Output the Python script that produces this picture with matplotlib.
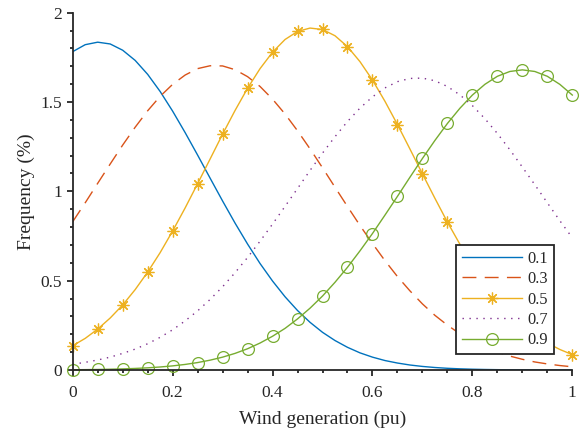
import numpy as np
import matplotlib
matplotlib.use("Agg")
import matplotlib.pyplot as plt

# ---- data ----
x = np.linspace(0, 1, 41)
labels = ["0.1", "0.3", "0.5", "0.7", "0.9"]

y_01 = [1.782, 1.821, 1.835, 1.825, 1.790, 1.733, 1.655, 1.559, 1.449, 1.329,
        1.203, 1.074, 0.946, 0.822, 0.705, 0.596, 0.498, 0.410, 0.333, 0.267,
        0.211, 0.165, 0.127, 0.096, 0.072, 0.053, 0.039, 0.028, 0.020, 0.014,
        0.0096, 0.0066, 0.0044, 0.0029, 0.0019, 0.0012, 0.0008, 0.0005, 0.0003, 0.0002,
        0.0001]
y_03 = [0.830, 0.936, 1.045, 1.153, 1.259, 1.359, 1.451, 1.532, 1.599, 1.651,
        1.687, 1.703, 1.702, 1.681, 1.642, 1.587, 1.516, 1.433, 1.339, 1.238,
        1.132, 1.023, 0.915, 0.809, 0.708, 0.612, 0.523, 0.443, 0.370, 0.306,
        0.251, 0.203, 0.162, 0.129, 0.101, 0.078, 0.060, 0.045, 0.034, 0.025,
        0.018]
y_05 = [0.136, 0.177, 0.229, 0.291, 0.364, 0.450, 0.548, 0.657, 0.778, 0.907,
        1.043, 1.181, 1.320, 1.453, 1.577, 1.687, 1.779, 1.850, 1.895, 1.914,
        1.906, 1.871, 1.810, 1.726, 1.623, 1.504, 1.374, 1.237, 1.098, 0.961,
        0.828, 0.704, 0.590, 0.488, 0.397, 0.319, 0.252, 0.197, 0.151, 0.115,
        0.086]
y_07 = [0.032, 0.043, 0.056, 0.072, 0.093, 0.117, 0.147, 0.183, 0.225, 0.275,
        0.331, 0.395, 0.466, 0.545, 0.630, 0.721, 0.817, 0.916, 1.016, 1.117,
        1.214, 1.306, 1.391, 1.466, 1.529, 1.579, 1.614, 1.632, 1.634, 1.619,
        1.587, 1.540, 1.480, 1.407, 1.324, 1.233, 1.136, 1.037, 0.936, 0.836,
        0.740]
y_09 = [0.0014, 0.0021, 0.0030, 0.0044, 0.0062, 0.0088, 0.0122, 0.0169, 0.0231, 0.0312,
        0.0417, 0.0551, 0.0720, 0.0931, 0.119, 0.151, 0.189, 0.233, 0.286, 0.346,
        0.414, 0.491, 0.575, 0.667, 0.764, 0.867, 0.972, 1.079, 1.184, 1.285,
        1.380, 1.465, 1.539, 1.599, 1.644, 1.671, 1.680, 1.671, 1.644, 1.599,
        1.539]

x_ticks = [0, 0.2, 0.4, 0.6, 0.8, 1]
x_ticklabels = ["0", "0.2", "0.4", "0.6", "0.8", "1"]
y_ticks = [0, 0.5, 1, 1.5, 2]
y_ticklabels = ["0", "0.5", "1", "1.5", "2"]

# ---- style ----
plt.rcParams['font.family'] = ['Liberation Serif', 'DejaVu Serif']
plt.rcParams['lines.scale_dashes'] = False
axcol = '#262626'

fig = plt.figure(figsize=(5.85, 4.32), dpi=100)
ax = fig.add_axes([0.1243, 0.1435, 0.8540, 0.8271])

lw = 1.0
ax.plot(x, y_01, color='#0072BD', lw=lw, label=labels[0])
ax.plot(x, y_03, color='#D95319', lw=lw, linestyle=(0, (10, 6)), label=labels[1])
ax.plot(x, y_05, color='#EDB120', lw=lw, marker=(8, 2, 0), markersize=8.5,
        markeredgewidth=0.9, markevery=2, label=labels[2], clip_on=False)
ax.plot(x, y_07, color='#7E2F8E', lw=lw, linestyle=(0, (1, 4)), label=labels[3])
ax.plot(x, y_09, color='#77AC30', lw=lw, marker='o', markersize=8.5,
        markerfacecolor='none', markeredgewidth=0.9, markevery=2,
        label=labels[4], clip_on=False)

ax.set_xlim(0, 1)
ax.set_ylim(0, 2)
ax.set_xticks(x_ticks)
ax.set_xticklabels(x_ticklabels)
ax.set_yticks(y_ticks)
ax.set_yticklabels(y_ticklabels)
ax.set_xticks(np.arange(0, 1.0001, 0.05), minor=True)
ax.set_yticks(np.arange(0, 2.0001, 0.1), minor=True)

for s in ['top', 'right']:
    ax.spines[s].set_visible(False)
for s in ['left', 'bottom']:
    ax.spines[s].set_color(axcol)
    ax.spines[s].set_linewidth(1.3)

ax.tick_params(which='major', direction='out', length=4.2, width=1.3,
               colors=axcol, labelsize=12.5, labelcolor=axcol)
ax.tick_params(axis='x', which='major', pad=6.5)
ax.tick_params(axis='y', which='major', pad=3.5)
ax.tick_params(which='minor', direction='out', length=2.5, width=1.3, colors=axcol)

ax.set_xlabel('Wind generation (pu)', fontsize=14, color=axcol, labelpad=7)
ax.set_ylabel('Frequency (%)', fontsize=14, color=axcol, labelpad=4)

leg = ax.legend(loc='upper left', bbox_to_anchor=(0.767, 0.35), fontsize=11.8,
                frameon=True, fancybox=False, framealpha=1, borderpad=0.35,
                handlelength=3.7, handletextpad=0.3, labelspacing=0.27,
                borderaxespad=0)
leg.get_frame().set_edgecolor(axcol)
leg.get_frame().set_linewidth(1.3)
for t in leg.get_texts():
    t.set_color(axcol)

fig.savefig('out.png', dpi=100)
